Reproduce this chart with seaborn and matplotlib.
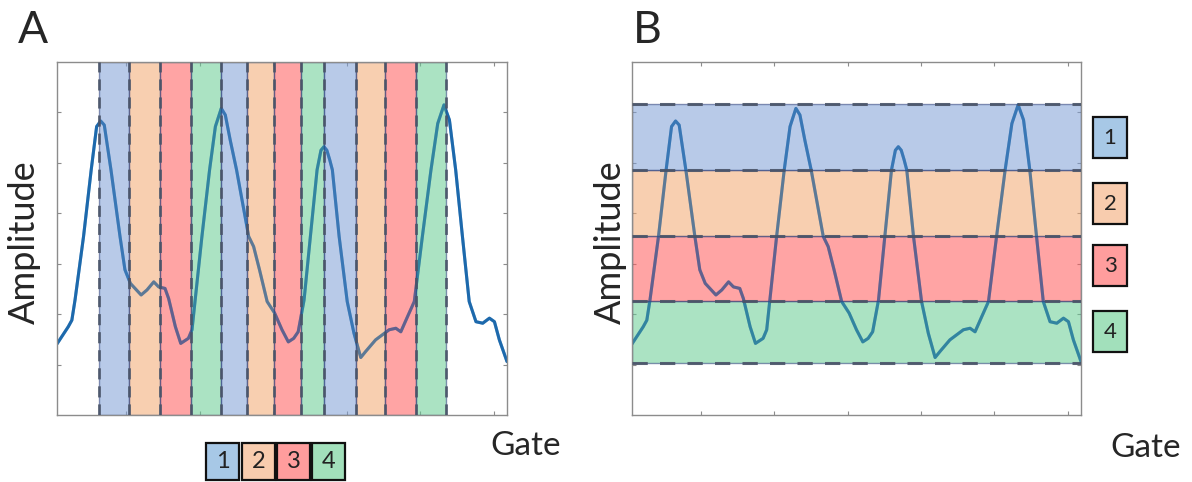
import numpy as np
import pandas as pd
import matplotlib
matplotlib.use("Agg")
import matplotlib.pyplot as plt
from matplotlib.patches import Rectangle
import seaborn as sns

# ---------------- data ----------------
gate = [0.6, 2.13, 2.62, 3.05, 4.21, 5.25, 5.99, 6.54, 7.03, 7.94, 9.17, 9.84, 10.58,
        12.04, 12.84, 13.76, 14.43, 15.29, 15.78, 16.70, 17.43, 18.47, 18.96, 19.39,
        20.31, 21.35, 22.14, 22.94, 23.49, 24.16, 25.02, 26.67, 27.34, 28.14, 29.18,
        30.2, 31.2, 32.06, 32.79, 33.40, 34.2, 35.06, 35.97, 36.5, 36.9, 37.3, 37.69,
        38.05, 38.97, 40.07, 40.99, 41.91, 42.58, 43.93, 44.85, 45.77, 46.68, 47.36,
        48.27, 49.19, 50.29, 51.46, 52.38, 53.23, 53.97, 54.82, 55.74, 56.66, 57.58,
        58.50, 59.41, 60.09, 60.76, 61.8]
amplitude = [1.41, 1.75, 1.88, 2.28, 3.54, 4.86, 5.72, 5.83, 5.75, 4.86, 3.54, 2.88, 2.61,
             2.38, 2.48, 2.64, 2.54, 2.51, 2.31, 1.75, 1.42, 1.52, 1.69, 2.28,
             3.54, 4.86, 5.72, 6.08, 5.95, 5.45, 4.86, 3.54, 3.34, 2.88, 2.25,
             2.02, 1.69, 1.45, 1.52, 1.65, 2.28, 3.54, 4.86, 5.25, 5.32, 5.25, 5.06,
             4.86, 3.54, 2.25, 1.62, 1.14, 1.26, 1.49, 1.59, 1.69, 1.72, 1.65,
             1.95, 2.25, 3.54, 4.86, 5.78, 6.15, 5.85, 4.86, 3.54, 2.25, 1.85,
             1.82, 1.92, 1.85, 1.49, 1.06]

# panel A: time-gate bin edges and class of each bin
gate_edges = [6.31, 10.39, 14.61, 18.84, 22.89, 26.44, 30.10, 33.77, 36.89, 41.26,
              45.22, 49.44, 53.48]
gate_classes = ["1", "2", "3", "4", "1", "2", "3", "4", "1", "2", "3", "4"]

# panel B: amplitude bin edges (bottom to top) and class of each bin
amp_edges = [1.03, 2.26, 3.55, 4.86, 6.17]
amp_classes = ["4", "3", "2", "1"]

legend_labels = ["1", "2", "3", "4"]
x_ticks = [10, 20, 30, 40, 50, 60]
y_ticks = [1, 2, 3, 4, 5, 6]

# ---------------- styles ----------------
LINE = "#1f72b8"
BAND = {"1": "#7fa0d6", "2": "#f3a870", "3": "#ff5a5a", "4": "#66cc92"}
BOX = {"1": "#a7c8e6", "2": "#f8ccae", "3": "#ff9d9d", "4": "#a2e0bb"}
EDGE = "#2a3d7a"
DASH = "#4a5468"
SPINE = "#8c8c8c"
BAND_ALPHA = 0.55

sns.set_theme(style="white")
plt.rcParams["font.family"] = ["Lato", "DejaVu Sans"]

W, H = 1192, 482
fig = plt.figure(figsize=(W / 100, H / 100), dpi=100)
fig.patch.set_facecolor("white")


def rect(l, t, r, b):
    return [l / W, 1 - b / H, (r - l) / W, (b - t) / H]


axA = fig.add_axes(rect(57, 62, 507, 415))
axB = fig.add_axes(rect(632, 62, 1081, 415))

df = pd.DataFrame({"Gate": gate, "Amplitude": amplitude})

for ax in (axA, axB):
    # signal beneath the translucent bands
    sns.lineplot(data=df, x="Gate", y="Amplitude", ax=ax, color=LINE, lw=2.2,
                 sort=False, zorder=1)
    # same signal, half-transparent, above the bands (darkens it inside bands)
    sns.lineplot(data=df, x="Gate", y="Amplitude", ax=ax, color="#1b5f9e", lw=2.2,
                 sort=False, zorder=2.5, alpha=0.45)
    ax.set_xlim(gate[0], gate[-1])
    ax.set_ylim(0, 7)
    ax.set_xticks(x_ticks)
    ax.set_yticks(y_ticks)
    ax.set_xticklabels([])
    ax.set_yticklabels([])
    ax.set_xlabel("")
    ax.set_ylabel("")
    ax.tick_params(direction="in", length=3, width=0.8, color=SPINE,
                   bottom=True, top=True, left=True, right=True)
    for s in ax.spines.values():
        s.set_color(SPINE)
        s.set_linewidth(1.0)
    ax.set_facecolor("white")

# Panel A bands (vertical)
for x0, x1, c in zip(gate_edges[:-1], gate_edges[1:], gate_classes):
    axA.axvspan(x0, x1, facecolor=BAND[c], alpha=BAND_ALPHA, edgecolor=EDGE,
                lw=1.0, zorder=2)
for x in gate_edges:
    axA.axvline(x, color=DASH, lw=2.0, ls=(0, (4, 2.5)), alpha=0.9, zorder=3)

# Panel B bands (horizontal)
for y0, y1, c in zip(amp_edges[:-1], amp_edges[1:], amp_classes):
    axB.axhspan(y0, y1, facecolor=BAND[c], alpha=BAND_ALPHA, edgecolor=EDGE,
                lw=1.0, zorder=2)
for y in amp_edges:
    axB.axhline(y, color=DASH, lw=2.2, ls=(0, (5, 4)), alpha=0.9, zorder=3)


def box(x, y, w, h, lab, fs):
    fig.patches.append(Rectangle((x / W, 1 - (y + h) / H), w / W, h / H,
                                 transform=fig.transFigure, facecolor=BOX[lab],
                                 edgecolor="#111111", lw=1.6))
    fig.text((x + w / 2) / W, 1 - (y + h / 2) / H, lab, ha="center", va="center",
             fontsize=fs, color="#222222")


# legend boxes panel A
for lab, x in zip(legend_labels, [206, 242, 277, 312]):
    box(x, 443, 33, 37, lab, 17)
# legend boxes panel B
for lab, y in zip(legend_labels, [117, 183, 245, 311]):
    box(1093, y, 34, 41, lab, 16)

# labels
fig.text(18 / W, 1 - 43 / H, "A", fontsize=32, ha="left", va="baseline")
fig.text(633 / W, 1 - 43 / H, "B", fontsize=32, ha="left", va="baseline")
fig.text(490 / W, 1 - 455 / H, "Gate", fontsize=24, ha="left", va="baseline")
fig.text(1110 / W, 1 - 457 / H, "Gate", fontsize=24, ha="left", va="baseline")
fig.text(24 / W, 1 - 242 / H, "Amplitude", fontsize=26, rotation=90,
         ha="center", va="center")
fig.text(610 / W, 1 - 242 / H, "Amplitude", fontsize=26, rotation=90,
         ha="center", va="center")

fig.savefig("out.png", dpi=100)
